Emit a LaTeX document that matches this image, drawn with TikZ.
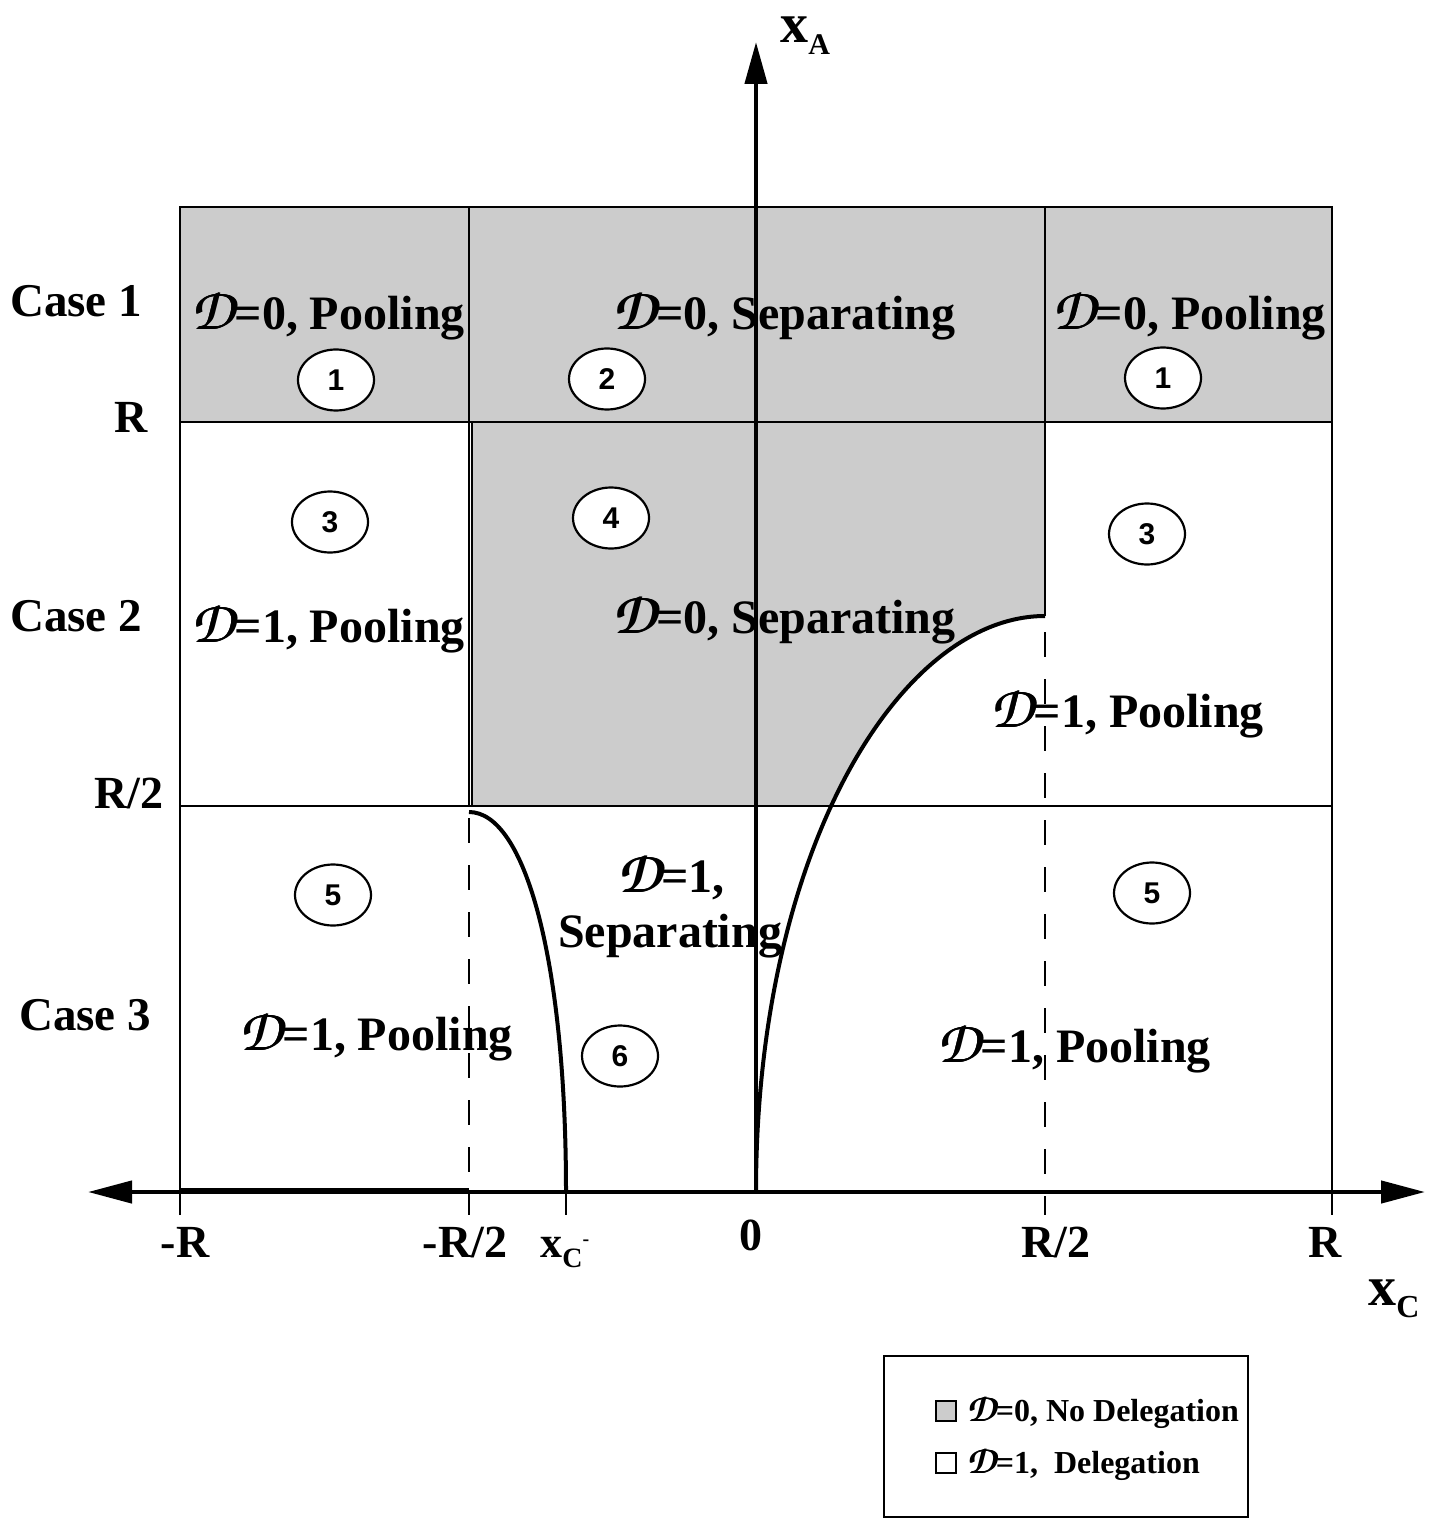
\documentclass[tikz,border=0pt]{standalone}
\usepackage[T1]{fontenc}
\usepackage{fontspec}
\setmainfont{Liberation Serif}
\newfontfamily\numfont{Liberation Sans}
\usetikzlibrary{arrows.meta,shapes.geometric}
\newcommand\calDglyph{{\fontencoding{T1}\fontfamily{pzc}\fontseries{mb}\fontshape{it}\selectfont\scalebox{1.25}{D}}}
\newcommand\calD{\makebox[0pt][l]{\calDglyph}\hspace{0.35pt}\makebox[0pt][l]{\calDglyph}\hspace{0.35pt}\calDglyph}
\definecolor{regiongray}{gray}{0.8}
\begin{document}
\begin{tikzpicture}[x=0.5pt,y=-0.5pt]
\useasboundingbox (0,0) rectangle (1439,1518);
\tikzset{
  region/.style={font=\fontsize{24}{24}\selectfont\bfseries, inner sep=0, anchor=base},
  caselbl/.style={font=\fontsize{23.5}{24}\selectfont\bfseries, inner sep=0, anchor=base},
  axlbl/.style={font=\fontsize{23}{24}\selectfont\bfseries, inner sep=0, anchor=base},
  numel/.style={ellipse, draw, line width=1.1pt, fill=white, minimum width=38pt, minimum height=30.5pt, inner sep=0, font=\numfont\bfseries\fontsize{15}{15}\selectfont},
  thinline/.style={line width=1.1pt},
  curveline/.style={line width=2pt},
  axisline/.style={line width=2.2pt},
  dashline/.style={line width=1.1pt, dash pattern=on 12.5pt off 11pt},
  legtext/.style={font=\fontsize{16}{16}\selectfont\bfseries, inner sep=0, anchor=base west},
  legsq/.style={draw, line width=1pt, minimum size=10pt, inner sep=0},
}
% shading
\fill[regiongray] (180,207) rectangle (1332,422);
\begin{scope}
  \clip (471,422) rectangle (1045,806);
  \fill[regiongray] (469,422) -- (1045,422) -- (1045,616) .. controls (900,616) and (756,850) .. (756,1192) -- (469,1192) -- cycle;
\end{scope}
% grid
\draw[thinline] (180,1215) -- (180,207) -- (1332,207) -- (1332,1215);
\draw[thinline] (180,422) -- (1332,422);
\draw[thinline] (180,806) -- (1332,806);
\draw[thinline] (469,207) -- (469,806);
\draw[thinline] (472,422) -- (472,806);
\draw[dashline] (469,818) -- (469,1215);
\draw[thinline] (1045,207) -- (1045,616);
\draw[dashline] (1045,632) -- (1045,1215);
\draw[thinline] (566,1192) -- (566,1215);
\draw[thinline] (180,1189) -- (469,1189);
% curves
\coordinate (o) at (756,1192);
\coordinate (rtop) at (1045,616);
\coordinate (ltop) at (469,812);
\coordinate (xcm) at (566,1192);
\draw[curveline] (o) .. controls (756,850) and (900,616) .. (rtop);
\draw[curveline] (ltop) .. controls (525,812) and (566,960) .. (xcm);
% axes
\coordinate (xl) at (88,1192);
\coordinate (xr) at (1425,1192);
\coordinate (yt) at (756,42);
\draw[axisline, {Triangle[length=22pt,width=11pt]}-{Triangle[length=22pt,width=11pt]}] (xl) -- (xr);
\draw[axisline, -{Triangle[length=21pt,width=11pt]}] (o) -- (yt);
% ellipses
\node[numel] (e1a) at (336,380) {1};
\node[numel] (e2) at (607,379) {2};
\node[numel] (e1b) at (1163,378) {1};
\node[numel] (e3a) at (330,522) {3};
\node[numel] (e4) at (611,518) {4};
\node[numel] (e3b) at (1147,534) {3};
\node[numel] (e5a) at (333,895) {5};
\node[numel] (e5b) at (1152,893) {5};
\node[numel] (e6) at (620,1056) {6};
% region texts
\node[region] (t1a) at (328,330) {\calD=0, Pooling};
\node[region] (t2) at (784,330) {\calD=0, Separating};
\node[region] (t1b) at (1189,330) {\calD=0, Pooling};
\node[region] (t3a) at (328,642) {\calD=1, Pooling};
\node[region] (t4) at (784,633) {\calD=0, Separating};
\node[region] (t3b) at (1127,727) {\calD=1, Pooling};
\node[region] (t6a) at (671,892) {\calD=1,};
\node[region] (t6b) at (670,947) {Separating};
\node[region] (t5a) at (376,1050) {\calD=1, Pooling};
\node[region] (t5b) at (1074,1062) {\calD=1, Pooling};
% case labels
\node[caselbl] (c1) at (76,317) {Case 1};
\node[caselbl] (c2) at (76,631) {Case 2};
\node[caselbl] (c3) at (85,1030) {Case 3};
\node[axlbl] (lR) at (131,432) {R};
\node[axlbl] (lR2) at (129,808) {R/2};
% axis labels
\node[axlbl] (bmR) at (185,1257) {-R};
\node[axlbl] (bmR2) at (465,1257) {-R/2};
\node[axlbl] (b0) at (751,1250) {0};
\node[axlbl] (bR2) at (1056,1257) {R/2};
\node[axlbl] (bR) at (1325,1257) {R};
\node[inner sep=0, anchor=base west] (bxc) at (540,1257) {\bfseries\fontsize{22}{22}\selectfont x\raisebox{-5pt}{\fontsize{14}{14}\selectfont C}\raisebox{6pt}{\fontsize{10}{10}\selectfont -}};
\node[inner sep=0, anchor=base west] (xa) at (780,43) {\bfseries\fontsize{28}{28}\selectfont x\raisebox{-6pt}{\fontsize{15}{15}\selectfont A}};
\node[inner sep=0, anchor=base west] (xc) at (1368,1305) {\bfseries\fontsize{28}{28}\selectfont x\raisebox{-6pt}{\fontsize{16}{16}\selectfont C}};
% legend
\draw[thinline] (884,1356) rectangle (1248,1517);
\node[legsq, fill=regiongray] (sq0) at (946,1411) {};
\node[legtext] (lg0) at (966,1421) {\calD=0, No Delegation};
\node[legsq, fill=white] (sq1) at (946,1463) {};
\node[legtext] (lg1) at (966,1473) {\calD=1,\ \ Delegation};
\end{tikzpicture}
\end{document}
